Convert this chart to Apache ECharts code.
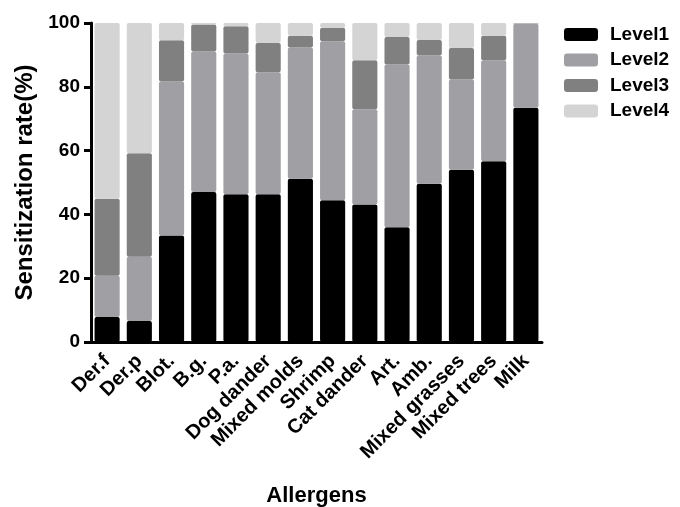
<!DOCTYPE html>
<html>
<head>
<meta charset="utf-8">
<script src="https://cdn.jsdelivr.net/npm/echarts@6/dist/echarts.min.js"></script>
<style>
html,body{margin:0;padding:0;background:#fff;}
#chart{width:680px;height:507px;}
</style>
</head>
<body>
<div id="chart"></div>
<script>
var categories = ['Der.f','Der.p','Blot.','B.g.','P.a.','Dog dander','Mixed molds','Shrimp','Cat dander','Art.','Amb.','Mixed grasses','Mixed trees','Milk'];
var level1 = [7.8, 6.6, 33.4, 47.0, 46.3, 46.3, 51.2, 44.4, 43.1, 36.0, 49.6, 54.0, 56.7, 73.4];
var level2 = [13.0, 20.1, 48.3, 44.1, 44.1, 38.3, 41.1, 49.9, 29.9, 51.0, 40.3, 28.3, 31.6, 26.4];
var level3 = [24.1, 32.5, 12.9, 8.4, 8.6, 9.1, 3.7, 4.2, 15.3, 8.6, 4.8, 9.9, 7.7, 0.1];
var level4 = [55.1, 40.8, 5.4, 0.5, 1.0, 6.3, 4.0, 1.5, 11.7, 4.4, 5.3, 7.8, 4.0, 0.1];
var yTicks = [0, 20, 40, 60, 80, 100];

var fontFam = 'Liberation Sans, Arial, sans-serif';
var chart = echarts.init(document.getElementById('chart'));

function makeSeries(name, data, color) {
    return {
        name: name,
        type: 'bar',
        stack: 'total',
        barWidth: '78%',
        data: data,
        itemStyle: {color: color, borderRadius: 2},
        emphasis: {disabled: true}
    };
}

var option = {
    animation: false,
    textStyle: {fontFamily: fontFam},
    grid: {left: 91, right: 138, top: 23, bottom: 165, outerBoundsMode: 'none', containLabel: false},
    legend: {
        orient: 'vertical',
        left: 559,
        top: 20,
        itemWidth: 34,
        itemHeight: 13,
        itemGap: 6.5,
        itemStyle: {borderRadius: 3},
        textStyle: {fontSize: 19, fontWeight: 'bold', color: '#000', fontFamily: fontFam, padding: [0, 0, 0, 7]},
        data: ['Level1', 'Level2', 'Level3', 'Level4']
    },
    xAxis: {
        type: 'category',
        data: categories,
        name: 'Allergens',
        nameLocation: 'middle',
        nameGap: 143,
        nameTextStyle: {fontSize: 22, fontWeight: 'bold', color: '#000'},
        axisLine: {lineStyle: {color: '#000', width: 3}},
        axisTick: {alignWithLabel: true, length: 7, lineStyle: {color: '#000', width: 3}},
        axisLabel: {rotate: 45, interval: 0, margin: 16, fontSize: 20, fontWeight: 'bold', color: '#000'}
    },
    yAxis: {
        type: 'value',
        min: 0,
        max: 100,
        interval: 20,
        name: 'Sensitization rate(%)',
        nameLocation: 'middle',
        nameGap: 52,
        nameTextStyle: {fontSize: 24, fontWeight: 'bold', color: '#000'},
        axisLine: {show: true, lineStyle: {color: '#000', width: 3}},
        axisTick: {show: true, length: 7, lineStyle: {color: '#000', width: 3}},
        axisLabel: {fontSize: 19, fontWeight: 'bold', color: '#000', margin: 11,
            formatter: function (v) { return yTicks.indexOf(v) >= 0 ? String(v) : ''; }},
        splitLine: {show: false}
    },
    series: [
        makeSeries('Level1', level1, '#000000'),
        makeSeries('Level2', level2, '#a0a0a4'),
        makeSeries('Level3', level3, '#808080'),
        makeSeries('Level4', level4, '#d4d4d4')
    ]
};
chart.setOption(option);
</script>
</body>
</html>
